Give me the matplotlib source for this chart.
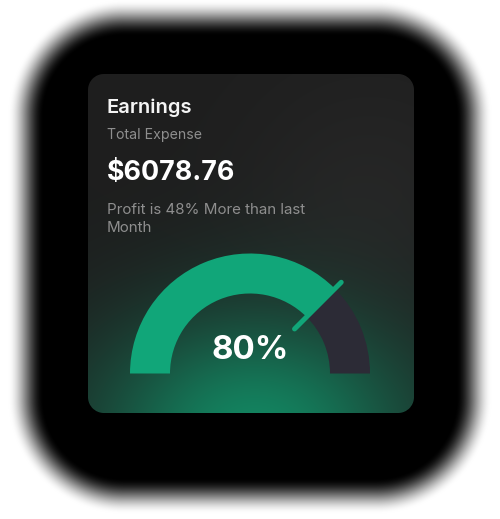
""" Carte "Earnings" avec jauge demi-cercle """

import numpy as np
import matplotlib
matplotlib.use("Agg")
import matplotlib.pyplot as plt
from matplotlib.patches import Wedge

plt.rcParams['font.family'] = ['Inter', 'DejaVu Sans']

# donnees
titre = "Earnings"
sous_titre = "Total Expense"
montant = "$6078.76"
commentaire = ["Profit is 48% More than last", "Month"]
jauge_label = "80%"
jauge_parts = [75, 25]          # part verte, part restante (en % du demi-cercle)
jauge_couleurs = ['#11a679', '#2c2b36']

W, H = 500, 519
yy, xx = np.mgrid[0:H, 0:W] + 0.5


def dist_rect_arrondi(x0, y0, x1, y1, r):
    cx, cy = (x0 + x1) / 2, (y0 + y1) / 2
    hx, hy = (x1 - x0) / 2 - r, (y1 - y0) / 2 - r
    qx = np.abs(xx - cx) - hx
    qy = np.abs(yy - cy) - hy
    ext = np.hypot(np.maximum(qx, 0), np.maximum(qy, 0))
    return ext + np.minimum(np.maximum(qx, qy), 0) - r


# fond blanc + ombre noire floue
img = np.ones((H, W, 3))
d_ombre = dist_rect_arrondi(44, 36, 456, 478, 80)
t = np.clip(d_ombre / 36, 0, 1)
a_ombre = 1 - t * t * (3 - 2 * t)
img = img * (1 - a_ombre[..., None])

# carte sombre avec lueur verte en bas
base = np.array([30, 30, 30]) / 255
clair = np.exp(-(((xx - 370) / 90) ** 2 + ((yy - 200) / 90) ** 2) / 2)
carte = base[None, None, :] + 0.03 * clair[..., None]
vert = np.array([19, 132, 96]) / 255
g = np.exp(-(((xx - 255) / 115) ** 2 + ((yy - 432) / 85) ** 2) / 2)
carte = carte * (1 - g[..., None]) + vert[None, None, :] * g[..., None]
d_carte = dist_rect_arrondi(88, 74, 414, 413, 16)
m = np.clip(0.5 - d_carte, 0, 1)[..., None]
img = img * (1 - m) + carte * m

fig = plt.figure(figsize=(5, 5.19), dpi=100)
ax = fig.add_axes([0, 0, 1, 1])
ax.imshow(img, extent=(0, W, H, 0), interpolation='bilinear')
ax.set_xlim(0, W)
ax.set_ylim(H, 0)
ax.axis('off')

# textes
ax.text(107, 113, titre, color='#f4f4f4', fontsize=14.5, fontweight='semibold', va='baseline')
ax.text(107, 139, sous_titre, color='#8e8e8e', fontsize=10.2, va='baseline')
ax.text(107, 180, montant, color='#ffffff', fontsize=19.3, fontweight='bold', va='baseline')
ax.text(107, 214, commentaire[0], color='#8e8e8e', fontsize=10.9, va='baseline')
ax.text(107, 231.5, commentaire[1], color='#8e8e8e', fontsize=10.9, va='baseline')

# jauge (axe y inverse : angle visuel phi -> angle data -phi)
cx, cy, r_ext, r_int = 250, 373.5, 120, 80
debut = 180
for part, couleur in zip(jauge_parts, jauge_couleurs):
    fin = debut - part / 100 * 180
    ax.add_patch(Wedge((cx, cy), r_ext, 360 - debut, 360 - fin,
                       width=r_ext - r_int, color=couleur, lw=0))
    debut = fin

phi = np.radians(180 - jauge_parts[0] / 100 * 180)
rs = np.array([63, 129])
ax.plot(cx + rs * np.cos(phi), cy - rs * np.sin(phi), color=jauge_couleurs[0],
        lw=3.6, solid_capstyle='round')

ax.text(cx, 359, jauge_label, color='#ffffff', fontsize=23.8, fontweight='bold',
        ha='center', va='baseline')

fig.savefig("out.png", dpi=100)
